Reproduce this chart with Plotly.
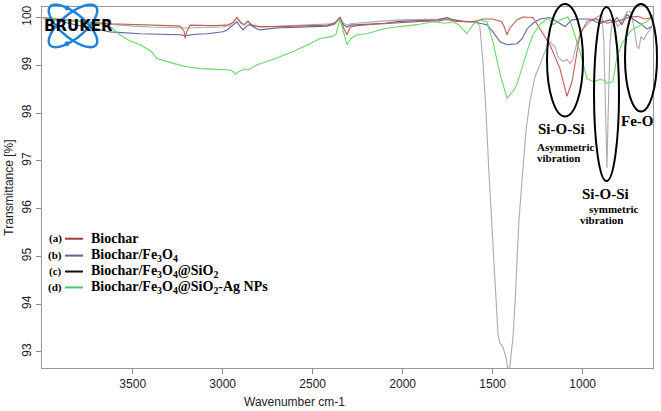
import numpy as np
import plotly.graph_objects as go

# ---------------- data ----------------
wn_a = [4004, 3960, 3900, 3820, 3737, 3626, 3500, 3400, 3300, 3237, 3215, 3209, 3200, 3182, 3126, 3050,
        2976, 2940, 2921, 2900, 2880, 2860, 2840, 2800, 2700, 2600, 2500, 2420, 2380, 2348, 2330, 2310,
        2290, 2255, 2150, 2016, 1900, 1800, 1754, 1700, 1626, 1587, 1554, 1500, 1450, 1435, 1420, 1404,
        1365, 1331, 1276, 1237, 1182, 1126, 1087, 1059, 1031, 1015, 976, 959, 920, 904, 887, 865, 832,
        800, 760, 737, 700, 682, 654, 626, 609]
t_a = [100.00, 99.99, 99.95, 99.92, 99.90, 99.87, 99.86, 99.84, 99.83, 99.82, 99.72, 99.56, 99.70, 99.84, 99.83, 99.83,
       99.84, 99.90, 100.00, 99.90, 99.85, 99.92, 99.85, 99.81, 99.81, 99.82, 99.83, 99.84, 99.88, 99.99, 99.80, 99.64,
       99.80, 99.83, 99.86, 99.90, 99.92, 99.93, 99.96, 99.92, 99.91, 99.93, 99.97, 99.97, 99.91, 99.80, 99.64, 99.78,
       99.95, 100.01, 100.00, 99.76, 99.43, 98.93, 98.35, 98.66, 99.29, 99.64, 99.91, 99.95, 99.97, 99.90, 99.93, 99.88, 99.91,
       99.93, 99.98, 100.01, 100.02, 100.01, 99.97, 99.98, 100.00]

wn_b = [4004, 3960, 3900, 3820, 3737, 3626, 3459, 3300, 3237, 3209, 3150, 3087, 2998, 2976, 2940, 2921,
        2900, 2887, 2860, 2848, 2809, 2793, 2700, 2600, 2515, 2420, 2380, 2348, 2330, 2310, 2290, 2200,
        2100, 2016, 1900, 1800, 1754, 1720, 1650, 1609, 1571, 1532, 1498, 1459, 1420, 1387, 1365, 1337,
        1309, 1276, 1237, 1182, 1126, 1098, 1059, 1015, 959, 904, 876, 848, 832, 809, 782, 754, 720,
        671, 643, 615]
t_b = [100.00, 99.97, 99.92, 99.85, 99.78, 99.70, 99.66, 99.65, 99.64, 99.62, 99.65, 99.66, 99.70, 99.74, 99.85, 99.91,
       99.80, 99.74, 99.84, 99.85, 99.76, 99.74, 99.78, 99.80, 99.81, 99.82, 99.86, 100.00, 99.85, 99.80, 99.84, 99.86,
       99.88, 99.92, 99.93, 99.95, 100.00, 99.95, 99.91, 99.91, 99.88, 99.85, 99.70, 99.49, 99.43, 99.45, 99.45, 99.55,
       99.76, 99.88, 99.97, 100.00, 99.87, 99.81, 99.95, 99.97, 99.97, 99.87, 99.92, 99.95, 99.91, 100.00, 99.85, 100.06, 99.97,
       99.85, 99.76, 99.81]

wn_c = [4004, 3900, 3820, 3737, 3626, 3500, 3400, 3300, 3209, 3126, 3000, 2960, 2921, 2900, 2880, 2860,
        2840, 2800, 2700, 2600, 2500, 2400, 2370, 2348, 2330, 2310, 2290, 2200, 2100, 2000, 1900, 1800,
        1754, 1720, 1650, 1609, 1587, 1571, 1554, 1537, 1521, 1504, 1487, 1470, 1459, 1443, 1426, 1415,
        1404, 1387, 1376, 1365, 1354, 1337, 1315, 1293, 1265, 1237, 1209, 1182, 1154, 1137, 1109, 1087,
        1070, 1054, 1031, 998, 959, 920, 893, 882, 870, 865, 859, 848, 832, 804, 782, 754, 732, 715,
        698, 687, 676, 660, 643, 626, 609]
t_c = [100.00, 99.97, 99.93, 99.90, 99.86, 99.82, 99.80, 99.79, 99.78, 99.79, 99.80, 99.83, 99.99, 99.88, 99.84, 99.93,
       99.84, 99.80, 99.82, 99.84, 99.86, 99.87, 99.90, 100.00, 99.88, 99.85, 99.87, 99.90, 99.93, 99.95, 99.96, 99.97,
       100.00, 99.95, 99.92, 99.90, 99.91, 99.81, 99.08, 98.03, 96.78, 95.64, 94.49, 93.35, 93.18, 93.10, 92.89, 92.62,
       92.70, 93.31, 94.01, 95.05, 95.74, 96.58, 97.62, 98.24, 98.76, 99.01, 99.29, 99.49, 99.39, 99.18, 99.08, 99.12,
       99.04, 99.12, 99.49, 99.76, 99.91, 100.01, 100.06, 99.49, 97.83, 96.85, 97.83, 99.49, 100.01, 99.81, 99.91, 100.12, 100.12, 99.81,
       99.39, 99.35, 99.60, 99.54, 99.66, 99.74, 99.87]

wn_d = [4004, 3900, 3750, 3650, 3614, 3571, 3520, 3459, 3400, 3365, 3276, 3200, 3126, 3050, 2998, 2960,
        2943, 2930, 2915, 2880, 2860, 2809, 2721, 2609, 2515, 2459, 2393, 2370, 2348, 2330, 2310, 2290,
        2255, 2199, 2110, 2016, 1921, 1832, 1760, 1721, 1690, 1643, 1609, 1571, 1532, 1498, 1459, 1420,
        1387, 1365, 1309, 1276, 1237, 1193, 1165, 1126, 1082, 1054, 1015, 976, 943, 904, 876, 865, 832,
        809, 782, 737, 720, 693, 671, 643, 626, 609]
t_d = [100.00, 99.95, 99.90, 99.85, 99.78, 99.64, 99.52, 99.43, 99.30, 99.14, 99.04, 98.97, 98.93, 98.92, 98.91, 98.90,
       98.87, 98.81, 98.86, 98.92, 98.90, 99.01, 99.12, 99.29, 99.45, 99.56, 99.60, 99.65, 99.97, 99.70, 99.43, 99.55,
       99.64, 99.66, 99.76, 99.81, 99.85, 99.91, 99.88, 99.91, 99.85, 99.66, 99.85, 99.95, 99.91, 99.49, 98.81, 98.31,
       98.45, 98.60, 99.29, 99.64, 99.85, 99.99, 99.85, 99.95, 100.01, 99.76, 99.29, 98.72, 98.66, 98.70, 98.68, 98.62, 98.66,
       99.18, 99.45, 99.70, 99.76, 99.80, 99.87, 99.91, 99.97, 100.06]

series_names = ["Biochar", "Biochar/Fe<sub>3</sub>O<sub>4</sub>",
                "Biochar/Fe<sub>3</sub>O<sub>4</sub>@SiO<sub>2</sub>",
                "Biochar/Fe<sub>3</sub>O<sub>4</sub>@SiO<sub>2</sub>-Ag NPs"]
series_tags = ["(a)", "(b)", "(c)", "(d)"]
x_ticks = [3500, 3000, 2500, 2000, 1500, 1000]
y_ticks = [93, 94, 95, 96, 97, 98, 99, 100]

# ---------------- styling ----------------
line_cols = {"a": "#c25a55", "b": "#62609e", "c": "#ababab", "d": "#66d866"}
legend_cols = ["#a5383a", "#6b5f8a", "#111111", "#3fcf6a"]

W, H = 661, 411
ML, MR, MT, MB = 42, 8, 5, 43
PW, PH = W - ML - MR, H - MT - MB


def px(x):
    return (x - ML) / PW


def py(y):
    return (H - MB - y) / PH


fig = go.Figure()
for wn, t, key in [(wn_c, t_c, "c"), (wn_b, t_b, "b"), (wn_a, t_a, "a"), (wn_d, t_d, "d")]:
    fig.add_trace(go.Scatter(x=wn, y=t, mode="lines", line=dict(color=line_cols[key], width=1.1),
                             showlegend=False, hoverinfo="skip"))

serif = "Liberation Serif"
sans = "Liberation Sans"
shapes = []
annotations = []

# ellipses
for (x0, x1, y0, y1) in [(547, 583, 2, 115), (594, 619, 5, 180), (625, 657, 2, 110)]:
    shapes.append(dict(type="circle", xref="paper", yref="paper", x0=px(x0), x1=px(x1),
                       y0=py(y1), y1=py(y0), line=dict(color="black", width=2)))


def ann(text, x, y, size, bold=True, xanchor="center", color="black", font=serif):
    annotations.append(dict(text=f"<b>{text}</b>" if bold else text, x=px(x), y=py(y),
                            xref="paper", yref="paper", showarrow=False, xanchor=xanchor,
                            yanchor="middle", font=dict(family=font, size=size, color=color)))


ann("Si-O-Si", 561, 128, 15)
ann("Asymmetric", 535, 146, 11, xanchor="left")
ann("vibration", 535, 157, 11, xanchor="left")
ann("Si-O-Si", 605, 193, 15)
ann("symmetric", 587, 208, 11, xanchor="left")
ann("vibration", 578, 219, 11, xanchor="left")
ann("Fe-O", 637, 120, 15)

# legend
rows = [238, 255, 271, 287]
for i, (tag, name) in enumerate(zip(series_tags, series_names)):
    yy = rows[i]
    ann(tag, 55, yy, 11)
    shapes.append(dict(type="line", xref="paper", yref="paper", x0=px(65), x1=px(83),
                       y0=py(yy), y1=py(yy), line=dict(color=legend_cols[i], width=2)))
    ann(name, 89, yy, 14, xanchor="left")

# x title
ann("Wavenumber cm-1", 294, 402, 12, bold=False, font=sans, color="#222")

# Bruker logo
cx, cy, a, b = 73, 24, 30, 12
tt = np.linspace(0, 2 * np.pi, 73)
for ang in (40, -40):
    th = np.radians(ang)
    xs = cx + a * np.cos(tt) * np.cos(th) - b * np.sin(tt) * np.sin(th)
    ys = cy + a * np.cos(tt) * np.sin(th) + b * np.sin(tt) * np.cos(th)
    path = "M " + " L ".join(f"{px(x):.5f},{py(y):.5f}" for x, y in zip(xs, ys)) + " Z"
    shapes.append(dict(type="path", xref="paper", yref="paper", path=path,
                       line=dict(color="#1f83dc", width=2.5)))
for (dx, dy) in [(67, 6), (67, 42)]:
    shapes.append(dict(type="circle", xref="paper", yref="paper", x0=px(dx - 2.5), x1=px(dx + 2.5),
                       y0=py(dy + 2.5), y1=py(dy - 2.5), fillcolor="#1f83dc",
                       line=dict(color="#1f83dc", width=0)))
ann("BRUKER", 78, 24, 15, font="DejaVu Sans")

fig.update_layout(
    width=W, height=H, margin=dict(l=ML, r=MR, t=MT, b=MB),
    paper_bgcolor="white", plot_bgcolor="white",
    shapes=shapes, annotations=annotations, showlegend=False,
    xaxis=dict(range=[4004, 609], tickvals=x_ticks, ticks="outside", ticklen=5, tickcolor="#888",
               showline=True, linecolor="#999", mirror=True, showgrid=False, zeroline=False,
               tickfont=dict(family=sans, size=12, color="#222")),
    yaxis=dict(range=[92.66, 100.22], tickvals=y_ticks, ticks="outside", ticklen=5, tickcolor="#888",
               tickangle=-90, showline=True, linecolor="#999", mirror=True, showgrid=False,
               zeroline=False, tickfont=dict(family=sans, size=12, color="#222"),
               title=dict(text="Transmittance [%]", font=dict(family=sans, size=12, color="#222"),
                          standoff=4)),
)
fig.write_html("out.html")
